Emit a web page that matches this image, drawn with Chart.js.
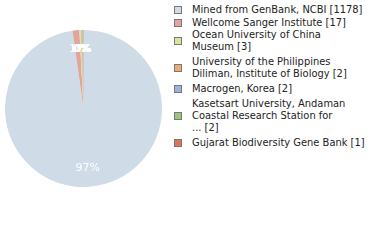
<!DOCTYPE html>
<html>
<head>
<meta charset="utf-8">
<script src="https://cdn.jsdelivr.net/npm/chart.js@4/dist/chart.umd.min.js"></script>
<style>
  html, body { margin: 0; padding: 0; background: #fff; }
  body { width: 380px; height: 240px; position: relative; overflow: hidden;
         font-family: 'DejaVu Sans Condensed', 'DejaVu Sans', sans-serif; }
  #pie-wrap { position: absolute; left: 5px; top: 30px; width: 157px; height: 157px; }
  .lg-item { position: absolute; left: 174px; font-size: 11px; line-height: 12px;
             color: #222; white-space: nowrap; }
  .lg-box { position: absolute; left: 0; width: 6px; height: 6px; border: 1px solid #777; }
  .lg-text { position: absolute; left: 18px; top: 0; }
</style>
</head>
<body>
<div id="pie-wrap"><canvas id="pie"></canvas></div>
<div id="legend"></div>
<script>
/* data */
const labels = [
  'Mined from GenBank, NCBI',
  'Wellcome Sanger Institute',
  'Ocean University of China Museum',
  'University of the Philippines Diliman, Institute of Biology',
  'Macrogen, Korea',
  'Kasetsart University, Andaman Coastal Research Station for ...',
  'Gujarat Biodiversity Gene Bank'
];
// legend lines as wrapped in the picture
const legendLines = [
  ['Mined from GenBank, NCBI [1178]'],
  ['Wellcome Sanger Institute [17]'],
  ['Ocean University of China', 'Museum [3]'],
  ['University of the Philippines', 'Diliman, Institute of Biology [2]'],
  ['Macrogen, Korea [2]'],
  ['Kasetsart University, Andaman', 'Coastal Research Station for', '... [2]'],
  ['Gujarat Biodiversity Gene Bank [1]']
];
const counts = [1178, 17, 3, 2, 2, 2, 1];
const colors = ['#cfdbe7', '#e1a59c', '#dde39c', '#eeab72', '#98b6dc', '#9cc47a', '#dd7355'];
// centre of first text line of each legend entry
const legendTop = [10, 23, 35, 62, 89, 104, 143];

/* legend */
const lg = document.getElementById('legend');
legendLines.forEach((lines, i) => {
  const d = document.createElement('div');
  d.className = 'lg-item';
  const h = lines.length * 12;
  d.style.top = (legendTop[i] - 6) + 'px';
  d.style.height = h + 'px';
  d.innerHTML = `<span class="lg-box" style="background:${colors[i]};top:${h / 2 - 4}px"></span>` +
    `<span class="lg-text">${lines.join('<br>')}</span>`;
  lg.appendChild(d);
});

/* percentage labels inside slices */
const pctLabels = {
  id: 'pctLabels',
  afterDatasetsDraw(chart) {
    const { ctx } = chart;
    const meta = chart.getDatasetMeta(0);
    const total = counts.reduce((a, b) => a + b, 0);
    ctx.save();
    ctx.fillStyle = '#fff';
    ctx.font = '11px "DejaVu Sans", sans-serif';
    ctx.textAlign = 'center';
    ctx.textBaseline = 'middle';
    meta.data.forEach((arc, i) => {
      const mid = (arc.startAngle + arc.endAngle) / 2;
      const r = arc.outerRadius * 0.76;
      const x = arc.x + Math.cos(mid) * r;
      const y = arc.y + Math.sin(mid) * r;
      ctx.fillText(Math.floor(counts[i] / total * 100) + '%', x, y);
    });
    ctx.restore();
  }
};

new Chart(document.getElementById('pie'), {
  type: 'pie',
  data: {
    labels: labels,
    datasets: [{ data: counts, backgroundColor: colors, borderWidth: 0 }]
  },
  options: {
    responsive: true, maintainAspectRatio: false, animation: false,
    layout: { padding: 0 },
    plugins: { legend: { display: false }, tooltip: { enabled: false } }
  },
  plugins: [pctLabels]
});
</script>
</body>
</html>
